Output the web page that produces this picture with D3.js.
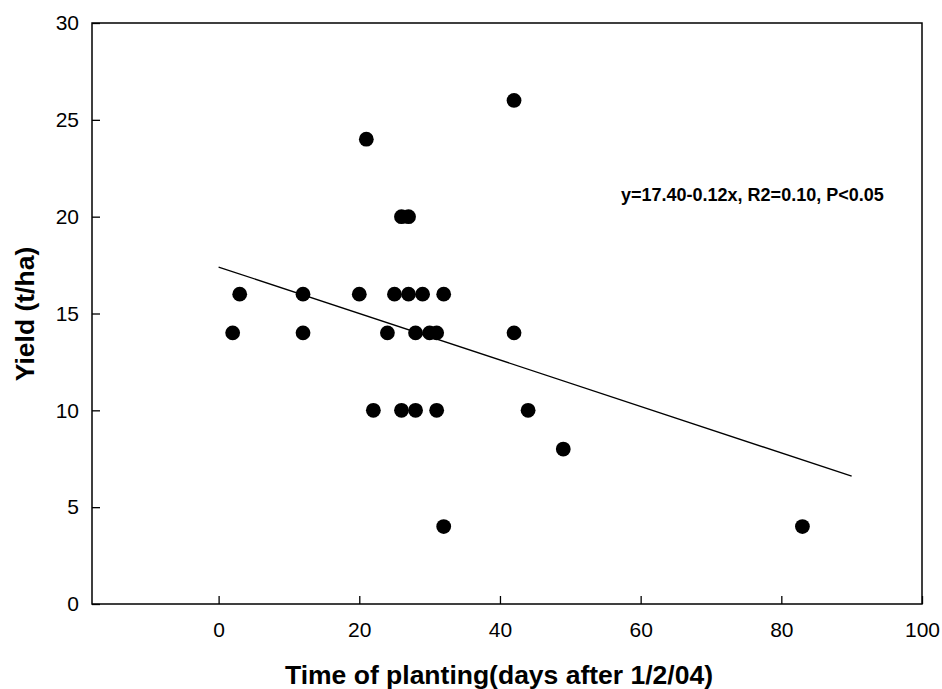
<!DOCTYPE html>
<html>
<head>
<meta charset="utf-8">
<script src="https://cdn.jsdelivr.net/npm/d3@7/dist/d3.min.js"></script>
<style>
  html, body { margin: 0; padding: 0; background: #fff; }
  svg { display: block; }
  text { font-family: Arial, "Liberation Sans", sans-serif; }
</style>
</head>
<body>
<svg id="chart" width="942" height="689"></svg>
<script>
// Data
const plantingDays = [2, 12, 24, 28, 30, 31, 42,
                      3, 12, 20, 25, 27, 29, 32,
                      22, 26, 28, 31, 44,
                      21, 26, 27, 42, 32, 49, 83];
const yieldValues  = [14, 14, 14, 14, 14, 14, 14,
                      16, 16, 16, 16, 16, 16, 16,
                      10, 10, 10, 10, 10,
                      24, 20, 20, 26, 4, 8, 4];
const xTicks = [0, 20, 40, 60, 80, 100];
const yTicks = [0, 5, 10, 15, 20, 25, 30];
const xDomain = [-18, 100];
const yDomain = [0, 30];
const fitIntercept = 17.40;
const fitSlope = -0.12;
const fitRange = [0, 90];
const equationLabel = "y=17.40-0.12x, R2=0.10, P<0.05";
const xTitle = "Time of planting(days after 1/2/04)";
const yTitle = "Yield (t/ha)";

const margin = { left: 92, top: 23, right: 20, bottom: 85 };
const W = 942, H = 689;
const iw = 922 - margin.left, ih = 604 - margin.top;

const svg = d3.select("#chart");
const g = svg.append("g").attr("transform", `translate(${margin.left},${margin.top})`);

const x = d3.scaleLinear().domain(xDomain).range([0, iw]);
const y = d3.scaleLinear().domain(yDomain).range([ih, 0]);

// X axis
const xAxis = g.append("g")
  .attr("transform", `translate(0,${ih})`)
  .call(d3.axisBottom(x).tickValues(xTicks).tickSizeInner(-8).tickSizeOuter(0).tickPadding(18));
xAxis.select(".domain").remove();
xAxis.selectAll("text").attr("font-size", 21).attr("fill", "#000")
  .style("font-family", "Arial, 'Liberation Sans', sans-serif");
xAxis.selectAll("line").attr("stroke", "#000").attr("stroke-width", 1.3);

// Y axis
const yAxis = g.append("g")
  .call(d3.axisLeft(y).tickValues(yTicks).tickSizeInner(-8).tickSizeOuter(0).tickPadding(13));
yAxis.select(".domain").remove();
yAxis.selectAll("text").attr("font-size", 21).attr("fill", "#000")
  .style("font-family", "Arial, 'Liberation Sans', sans-serif");
yAxis.selectAll("line").attr("stroke", "#000").attr("stroke-width", 1.3);

// Frame
g.append("rect")
  .attr("x", 0).attr("y", 0).attr("width", iw).attr("height", ih)
  .attr("fill", "none").attr("stroke", "#000").attr("stroke-width", 1.5);

// Regression line
g.append("line")
  .attr("x1", x(fitRange[0])).attr("y1", y(fitIntercept + fitSlope * fitRange[0]))
  .attr("x2", x(fitRange[1])).attr("y2", y(fitIntercept + fitSlope * fitRange[1]))
  .attr("stroke", "#000").attr("stroke-width", 1.3);

// Points
const pts = plantingDays.map((d, i) => ({ x: d, y: yieldValues[i] }));
g.selectAll("circle.pt").data(pts).enter().append("circle")
  .attr("class", "pt")
  .attr("cx", d => x(d.x)).attr("cy", d => y(d.y))
  .attr("r", 7.4).attr("fill", "#000");

// Equation label
svg.append("text")
  .attr("x", 621).attr("y", 201)
  .attr("font-size", 18).attr("font-weight", "bold").attr("fill", "#000")
  .text(equationLabel);

// Axis titles
svg.append("text")
  .attr("x", 499).attr("y", 684)
  .attr("text-anchor", "middle")
  .attr("font-size", 26.5).attr("font-weight", "bold").attr("fill", "#000")
  .text(xTitle);

svg.append("text")
  .attr("transform", `translate(34,${314}) rotate(-90)`)
  .attr("text-anchor", "middle")
  .attr("font-size", 26.5).attr("font-weight", "bold").attr("fill", "#000")
  .text(yTitle);
</script>
</body>
</html>
